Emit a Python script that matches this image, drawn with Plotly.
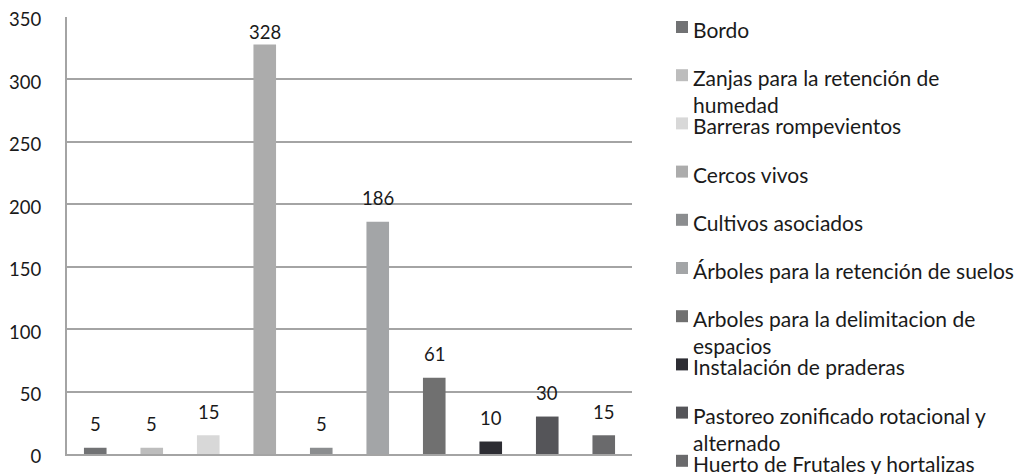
import plotly.graph_objects as go

# Practices and number of adoptions
categories = [
    "Bordo",
    "Zanjas para la retención de<br>humedad",
    "Barreras rompevientos",
    "Cercos vivos",
    "Cultivos asociados",
    "Árboles para la retención de suelos",
    "Arboles para la delimitacion de<br>espacios",
    "Instalación de praderas",
    "Pastoreo zonificado rotacional y<br>alternado",
    "Huerto de Frutales y hortalizas",
]
values = [5, 5, 15, 328, 5, 186, 61, 10, 30, 15]
colors = [
    "#717274", "#bdbdbd", "#d8d8d8", "#acacac", "#8b8d8f",
    "#a3a5a7", "#707070", "#2d2d33", "#555559", "#6a6a6c",
]
y_ticks = [0, 50, 100, 150, 200, 250, 300, 350]

FONT = "Lato"
TEXT = "#1a1a1a"
GRID = "#a4a4a4"

W, H = 1021, 474
ML, MR, MT, MB = 67, 389, 17, 20
PW, PH = W - ML - MR, H - MT - MB


def px_x(px):
    return (px - ML) / PW


def px_y(py):
    return (H - MB - py) / PH


fig = go.Figure()
for i, (name, v, c) in enumerate(zip(categories, values, colors)):
    fig.add_trace(go.Bar(
        x=[i], y=[v], name=name.replace("<br>", " "),
        marker=dict(color=c, line=dict(width=0)),
        width=0.4, hoverinfo="name+y",
    ))

# value labels above the bars, kept inside the plotting area
for i, v in enumerate(values):
    fig.add_annotation(
        x=i, y=min(v + 19, 338), text=str(v), showarrow=False,
        yanchor="middle", xanchor="center",
        font=dict(family=FONT, size=18.5, color=TEXT),
    )

# legend: a fixed slot per category, wrapped names run into the next slot
slot0, slot = 30, 48.2
for i, (name, c) in enumerate(zip(categories, colors)):
    cy = slot0 + slot * i
    fig.add_shape(
        type="rect", xref="paper", yref="paper",
        x0=px_x(676), x1=px_x(688), y0=px_y(cy + 3), y1=px_y(cy - 9),
        fillcolor=c, line=dict(width=0),
    )
    fig.add_annotation(
        xref="paper", yref="paper", x=px_x(691), y=px_y(cy - 15),
        xanchor="left", yanchor="top", align="left", showarrow=False,
        text=name, font=dict(family=FONT, size=21, color=TEXT),
    )

fig.update_layout(
    width=W, height=H,
    margin=dict(l=ML, r=MR, t=MT, b=MB, autoexpand=False),
    paper_bgcolor="white", plot_bgcolor="white",
    barmode="overlay", showlegend=False,
    font=dict(family=FONT, size=18.5, color=TEXT),
    xaxis=dict(
        range=[-0.5, 9.5], showticklabels=False, ticks="",
        showgrid=False, zeroline=False, automargin=False,
        showline=True, linecolor=GRID, linewidth=2,
    ),
    yaxis=dict(
        range=[0, 350], tickvals=y_ticks, ticks="",
        showgrid=True, gridcolor=GRID, gridwidth=2,
        zeroline=False, showline=True, linecolor=GRID, linewidth=2,
        ticklabelstandoff=20, ticklabelshift=3, automargin=False,
        tickfont=dict(family=FONT, size=18.5, color=TEXT),
    ),
)

fig.write_html("out.html")
